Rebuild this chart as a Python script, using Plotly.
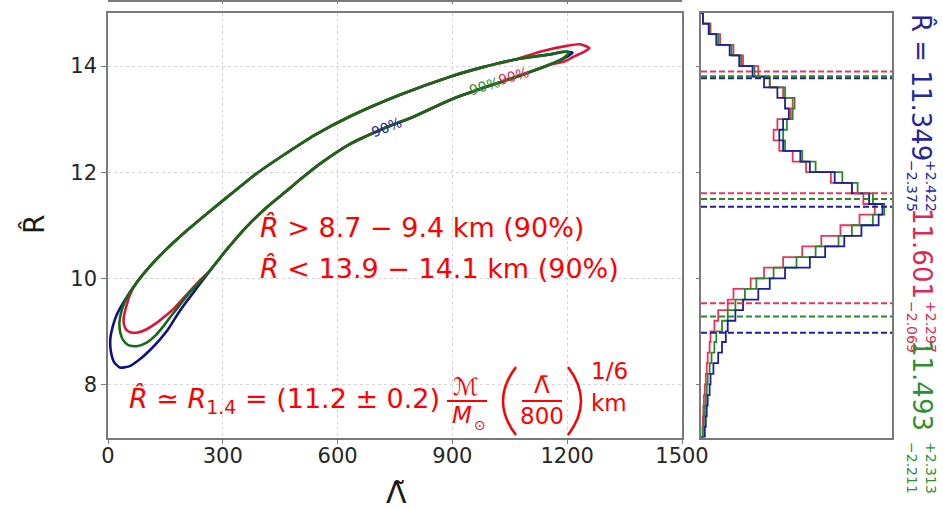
import numpy as np
import plotly.graph_objects as go

# ---------------------------------------------------------------------------
# 90% credible contours in the (Lambda_tilde, R_hat) plane
# shared upper edge, running from the tip towards small Lambda
UP_LAM = [1155, 1068, 980, 894, 760, 632, 540, 458, 389, 327, 267, 206, 153, 110, 75]
UP_R = [14.22, 14.13, 13.98, 13.80, 13.45, 13.05, 12.70, 12.32, 11.98, 11.62, 11.27, 10.90, 10.55, 10.23, 9.92]

# shared lower edge, running from the bend out to the tip
LO_LAM = [267, 310, 362, 415, 467, 510, 560, 632, 719, 800, 894, 981, 1068, 1155]
LO_R = [10.15, 10.54, 10.97, 11.34, 11.65, 11.91, 12.19, 12.53, 12.82, 13.05, 13.36, 13.59, 13.80, 14.03]

# low-Lambda ends of each contour
BLUE_END_LAM = [40, 22, 12, 6, 8, 16, 31, 55, 84, 110, 136, 158, 179, 200, 223, 245]
BLUE_END_R = [9.54, 9.30, 9.08, 8.85, 8.60, 8.42, 8.32, 8.34, 8.48, 8.65, 8.85, 9.05, 9.29, 9.51, 9.73, 9.94]
GREEN_END_LAM = [48, 36, 30, 32, 40, 53, 75, 101, 125, 145, 166, 188, 212, 240]
GREEN_END_R = [9.62, 9.40, 9.18, 8.98, 8.83, 8.74, 8.72, 8.79, 8.93, 9.10, 9.30, 9.50, 9.72, 9.94]
RED_END_LAM = [58, 47, 41, 42, 48, 60, 78, 101, 125, 148, 172, 200, 232]
RED_END_R = [9.70, 9.45, 9.25, 9.12, 9.03, 8.98, 8.98, 9.04, 9.15, 9.28, 9.43, 9.65, 9.90]

# high-Lambda tips of each contour
BLUE_TIP_LAM = [1195, 1214, 1195]
BLUE_TIP_R = [14.16, 14.25, 14.27]
GREEN_TIP_LAM = [1190, 1206, 1185]
GREEN_TIP_R = [14.15, 14.26, 14.27]
RED_TIP_LAM = [1190, 1215, 1245, 1258, 1233, 1199, 1129]
RED_TIP_R = [14.08, 14.17, 14.27, 14.34, 14.41, 14.38, 14.27]

# ---------------------------------------------------------------------------
# marginal posterior of R_hat (bins of 0.2 km from 7 to 15, relative density)
R_MIN, R_MAX, R_BIN = 7.0, 15.0, 0.2
BLUE_HIST = [0.02, 0.025, 0.03, 0.035, 0.045, 0.05, 0.065, 0.09, 0.11, 0.13,
             0.14, 0.18, 0.22, 0.30, 0.36, 0.44, 0.57, 0.65, 0.75, 0.84,
             0.93, 0.95, 0.88, 0.79, 0.70, 0.57, 0.52, 0.43, 0.41, 0.43,
             0.46, 0.44, 0.40, 0.33, 0.27, 0.20, 0.15, 0.08, 0.04, 0.01]
GREEN_HIST = [0.01, 0.015, 0.02, 0.025, 0.03, 0.035, 0.045, 0.055, 0.07, 0.08,
              0.11, 0.14, 0.18, 0.23, 0.29, 0.38, 0.50, 0.60, 0.72, 0.79,
              0.90, 0.96, 0.90, 0.82, 0.74, 0.60, 0.53, 0.44, 0.43, 0.45,
              0.48, 0.49, 0.44, 0.36, 0.28, 0.21, 0.16, 0.09, 0.045, 0.01]
RED_HIST = [0.008, 0.01, 0.012, 0.015, 0.02, 0.025, 0.03, 0.035, 0.045, 0.05,
            0.07, 0.09, 0.14, 0.17, 0.26, 0.33, 0.43, 0.53, 0.63, 0.73,
            0.83, 0.91, 0.85, 0.79, 0.68, 0.55, 0.48, 0.41, 0.38, 0.40,
            0.47, 0.48, 0.43, 0.36, 0.30, 0.22, 0.17, 0.10, 0.05, 0.01]

# posterior summaries: median and 90% interval half-widths
MEDIAN = {"blue": 11.349, "red": 11.601, "green": 11.493}
PLUS = {"blue": 2.422, "red": 2.297, "green": 2.313}
MINUS = {"blue": 2.375, "red": 2.069, "green": 2.211}

LAM_TICKS = [0, 300, 600, 900, 1200, 1500]
R_TICKS = [8, 10, 12, 14]

LINE = {"blue": "#10108a", "green": "#146b14", "red": "#dc143c"}
HIST = {"blue": "#1f1f9c", "green": "#2a8a2a", "red": "#e8365a"}
TEXT = {"blue": "#26269a", "green": "#2f8f2f", "red": "#dc2a50"}
ANNOT = "#ff0000"

W, H = 943, 509


def px(x):
    return x / W


def py(y):
    return 1 - y / H


def loop(tip_lam, tip_r, end_lam, end_r, up_from=0):
    lam = LO_LAM + tip_lam + UP_LAM[up_from:] + end_lam + LO_LAM[:1]
    r = LO_R + tip_r + UP_R[up_from:] + end_r + LO_R[:1]
    return lam, r


fig = go.Figure()

contours = {
    "blue": loop(BLUE_TIP_LAM, BLUE_TIP_R, BLUE_END_LAM, BLUE_END_R),
    "red": loop(RED_TIP_LAM, RED_TIP_R, RED_END_LAM, RED_END_R, up_from=1),
    "green": loop(GREEN_TIP_LAM, GREEN_TIP_R, GREEN_END_LAM, GREEN_END_R),
}
for name in ["blue", "red", "green"]:
    lam, r = contours[name]
    fig.add_trace(go.Scatter(
        x=lam, y=r, mode="lines", line=dict(color=LINE[name], width=2.6, shape="spline", smoothing=0.6),
        xaxis="x", yaxis="y", showlegend=False, hoverinfo="skip"))

# step histograms, drawn sideways next to the R axis
edges = np.arange(R_MIN, R_MAX + R_BIN / 2, R_BIN)
for name, vals in [("red", RED_HIST), ("green", GREEN_HIST), ("blue", BLUE_HIST)]:
    xs = [0.0] + list(vals) + [0.0]
    ys = list(edges) + [edges[-1]]
    fig.add_trace(go.Scatter(
        x=xs, y=ys, mode="lines", line=dict(color=HIST[name], width=1.8, shape="hv"),
        xaxis="x2", yaxis="y2", showlegend=False, hoverinfo="skip"))

# median and 90% bounds
for name in ["red", "green", "blue"]:
    for v in [MEDIAN[name] - MINUS[name], MEDIAN[name], MEDIAN[name] + PLUS[name]]:
        fig.add_trace(go.Scatter(
            x=[0, 1], y=[v, v], mode="lines",
            line=dict(color=HIST[name], width=2, dash="6px,3px"),
            xaxis="x2", yaxis="y2", showlegend=False, hoverinfo="skip"))

# placeholder so the top axis of the (cut-off) upper panel is drawn
fig.add_trace(go.Scatter(x=[None], y=[None], xaxis="x3", yaxis="y", showlegend=False))

ax_line = "#7a7a7a"
tick_font = dict(family="DejaVu Sans", size=21, color="#262626")
main_x = [px(108), px(682)]
main_y = [py(437.5), py(13)]

fig.update_layout(
    width=W, height=H, autosize=False,
    margin=dict(l=0, r=0, t=0, b=0, pad=0, autoexpand=False),
    paper_bgcolor="white", plot_bgcolor="white",
    font=dict(family="DejaVu Sans"),
    xaxis=dict(domain=main_x, range=[0, 1500], tickvals=LAM_TICKS, ticks="outside", ticklen=5,
               tickcolor=ax_line, showline=True, linecolor=ax_line, linewidth=1.5, mirror=True,
               showgrid=True, gridcolor="#d6d6d6", griddash="dot", gridwidth=1, zeroline=False,
               tickfont=tick_font, ticklabelstandoff=-6, anchor="y", automargin=False),
    yaxis=dict(domain=main_y, range=[7, 15], tickvals=R_TICKS, ticks="outside", ticklen=5,
               tickcolor=ax_line, showline=True, linecolor=ax_line, linewidth=1.5, mirror=True,
               showgrid=True, gridcolor="#d6d6d6", griddash="dot", gridwidth=1, zeroline=False,
               tickfont=tick_font, anchor="x", automargin=False),
    xaxis2=dict(domain=[px(701), px(892)], range=[0, 1], showticklabels=False, ticks="",
                showline=True, linecolor=ax_line, linewidth=1.5, mirror=True,
                showgrid=False, zeroline=False, anchor="y2", automargin=False),
    yaxis2=dict(domain=main_y, range=[7, 15], tickvals=R_TICKS, ticks="outside", ticklen=3,
                tickcolor=ax_line, showticklabels=False, showline=True, linecolor=ax_line,
                linewidth=1.5, mirror=True, showgrid=False, zeroline=False, anchor="x2",
                automargin=False),
    xaxis3=dict(overlaying="x", anchor="free", position=py(0.5), side="top", range=[0, 1500],
                tickvals=LAM_TICKS, ticks="inside", ticklen=3, tickcolor=ax_line,
                showticklabels=False, showline=True, linecolor=ax_line, linewidth=1.5,
                showgrid=False, zeroline=False, automargin=False),
)


def note(text, x, y, size, color, angle=0, xanchor="center", family="DejaVu Sans"):
    return dict(text=text, x=px(x), y=py(y), xref="paper", yref="paper", textangle=angle,
                xanchor=xanchor, yanchor="middle", showarrow=False,
                font=dict(family=family, size=size, color=color))


ann = []
# axis titles
ann.append(note("Λ̃", 396, 492, 30, "#1a1a1a"))
ann.append(note("R̂", 35, 225, 28, "#1a1a1a", angle=-90))

# contour labels
for name, lam, r, ang in [("blue", 729, 12.85, -21), ("green", 985, 13.62, -17), ("red", 1060, 13.82, -17)]:
    ann.append(dict(text="90%", x=lam, y=r, xref="x", yref="y", textangle=ang, showarrow=False,
                    xanchor="center", yanchor="middle", font=dict(size=14, color=TEXT[name])))

# bounds on the radius
ann.append(note("<i>R̂</i> > 8.7 − 9.4 km (90%)", 258, 227, 27, ANNOT, xanchor="left"))
ann.append(note("<i>R̂</i> < 13.9 − 14.1 km (90%)", 258, 268, 27, ANNOT, xanchor="left"))

# R_1.4 relation
ann.append(note("<i>R̂</i> ≃ <i>R</i><sub>1.4</sub> = (11.2 ± 0.2)",
                127, 400, 27, ANNOT, xanchor="left"))
ann.append(note("ℳ", 466, 387, 24, ANNOT))
ann.append(note("<i>M</i>", 462, 415, 23, ANNOT))
ann.append(note("⊙", 480, 425, 14, ANNOT))
ann.append(note("Λ̄", 542, 385, 23, ANNOT))
ann.append(note("800", 542, 416, 23, ANNOT))
ann.append(note("1/6", 609, 371, 23, ANNOT))
ann.append(note("km", 609, 403, 23, ANNOT))

# summary labels at the right edge, reading downwards
big, small = 26, 14
for name, main_txt, yc, ys in [("blue", "R̂ = %.3f" % MEDIAN["blue"], 87, 186),
                               ("red", "%.3f" % MEDIAN["red"], 253, 327),
                               ("green", "%.3f" % MEDIAN["green"], 385, 468)]:
    ann.append(note(main_txt, 922, yc, big, TEXT[name], angle=90))
    ann.append(note("+%.3f" % PLUS[name], 931, ys, small, TEXT[name], angle=90))
    ann.append(note("−%.3f" % MINUS[name], 912, ys, small, TEXT[name], angle=90))

fig.update_layout(annotations=ann)

# fraction bars and large parentheses of the R_1.4 relation
shapes = []
shapes.append(dict(type="line", xref="paper", yref="paper", x0=px(447), x1=px(487), y0=py(401), y1=py(401),
                   line=dict(color=ANNOT, width=2)))
shapes.append(dict(type="line", xref="paper", yref="paper", x0=px(522), x1=px(562), y0=py(401), y1=py(401),
                   line=dict(color=ANNOT, width=2)))
shapes.append(dict(type="path", xref="paper", yref="paper",
                   path="M %f,%f Q %f,%f %f,%f" % (px(516), py(367), px(490), py(401), px(516), py(435)),
                   line=dict(color=ANNOT, width=2.5)))
shapes.append(dict(type="path", xref="paper", yref="paper",
                   path="M %f,%f Q %f,%f %f,%f" % (px(568), py(367), px(594), py(401), px(568), py(435)),
                   line=dict(color=ANNOT, width=2.5)))
fig.update_layout(shapes=shapes)

fig.write_html("out.html")
